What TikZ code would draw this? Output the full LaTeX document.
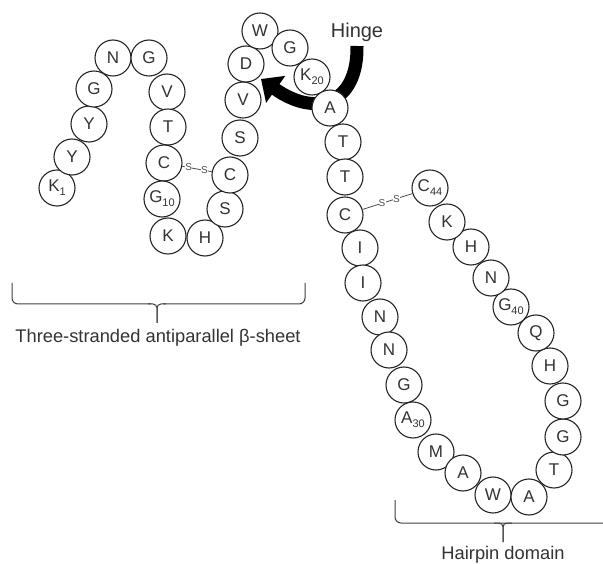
\documentclass[tikz,border=0pt]{standalone}
\usepackage{fontspec}
\setmainfont{Liberation Sans}
\usetikzlibrary{arrows.meta}
\newcommand\subn[1]{\raisebox{-4pt}{\fontsize{11}{11}\selectfont #1}}
\begin{document}
\begin{tikzpicture}[x=1pt,y=-1pt,
  aa/.style={circle,draw=black!85,line width=1.1pt,fill=white,minimum size=36pt,inner sep=0pt,
    font=\fontsize{17}{17}\selectfont,text=black!80},
  ssbond/.style={draw=black!70,line width=0.8pt},
  sslab/.style={fill=white,inner sep=0.2pt,font=\fontsize{10}{10}\selectfont,text=black!70},
  brace/.style={draw=black!75,line width=1pt},
  lbl/.style={font=\fontsize{18.3}{18}\selectfont,text=black!80,anchor=base},
  hingearrow/.style={line width=13pt,-{Triangle[length=18pt,width=32pt]}}]
\useasboundingbox (0,0) rectangle (603,564);
% hinge arrow (behind the residues)
\coordinate (hstart) at (357,46);
\coordinate (htip) at (261,79);
\draw[hingearrow] (hstart) .. controls (358,104) and (316,118) .. (htip);
% residues
\node[aa] (r1) at (57,188) {K\subn{1}};
\node[aa] (r2) at (72,157) {Y};
\node[aa] (r3) at (89,124) {Y};
\node[aa] (r4) at (94,89) {G};
\node[aa] (r5) at (113,58) {N};
\node[aa] (r6) at (149,58) {G};
\node[aa] (r7) at (167,92) {V};
\node[aa] (r8) at (168,127) {T};
\node[aa] (r9) at (164,163) {C};
\node[aa] (r10) at (162,199) {G\subn{10}};
\node[aa] (r11) at (168,236) {K};
\node[aa] (r12) at (205,238) {H};
\node[aa] (r13) at (225,209) {S};
\node[aa] (r14) at (230,175) {C};
\node[aa] (r15) at (240,138) {S};
\node[aa] (r16) at (243,100) {V};
\node[aa] (r17) at (246,64) {D};
\node[aa] (r18) at (260,31) {W};
\node[aa] (r19) at (290,48) {G};
\node[aa] (r20) at (312,77) {K\subn{20}};
\node[aa] (r21) at (330,108) {A};
\node[aa] (r22) at (343,142) {T};
\node[aa] (r23) at (345,177) {T};
\node[aa] (r24) at (345,215) {C};
\node[aa] (r25) at (360,248) {I};
\node[aa] (r26) at (363,283) {I};
\node[aa] (r27) at (380,317) {N};
\node[aa] (r28) at (389,350) {N};
\node[aa] (r29) at (404,385) {G};
\node[aa] (r30) at (413,420) {A\subn{30}};
\node[aa] (r31) at (436,452) {M};
\node[aa] (r32) at (463,473) {A};
\node[aa] (r33) at (493,495) {W};
\node[aa] (r34) at (529,497) {A};
\node[aa] (r35) at (554,470) {T};
\node[aa] (r36) at (563,437) {G};
\node[aa] (r37) at (563,401) {G};
\node[aa] (r38) at (550,366) {H};
\node[aa] (r39) at (536,333) {Q};
\node[aa] (r40) at (511,307) {G\subn{40}};
\node[aa] (r41) at (491,278) {N};
\node[aa] (r42) at (471,247) {H};
\node[aa] (r43) at (447,222) {K};
\node[aa] (r44) at (430,188) {C\subn{44}};
% disulfide bonds
\draw[ssbond] (r9) -- node[sslab,pos=0.22]{S} node[sslab,pos=0.75]{S} (r14);
\draw[ssbond] (r24) -- node[sslab,pos=0.39]{S} node[sslab,pos=0.68]{S} (r44);
% labels
\node[lbl,font=\fontsize{20}{20}\selectfont] (hinge) at (357,38) {Hinge};
\node[lbl] (sheet) at (158,343) {Three-stranded antiparallel β-sheet};
\node[lbl] (hairpin) at (503,559) {Hairpin domain};
% braces
\coordinate (b1l) at (12,283);
\coordinate (b1r) at (305,283);
\coordinate (b1t) at (157,323);
\draw[brace,rounded corners=6pt] (b1l) |- (151,304);
\draw[brace,rounded corners=6pt] (b1r) |- (163,304);
\draw[brace,rounded corners=4pt] (148,304) -| (b1t);
\draw[brace,rounded corners=4pt] (166,304) -| (b1t);
\coordinate (b2l) at (395,500);
\coordinate (b2t) at (503,542);
\draw[brace,rounded corners=6pt] (b2l) |- (610,523);
\draw[brace,rounded corners=4pt] (494,523) -| (b2t);
\draw[brace,rounded corners=4pt] (512,523) -| (b2t);
\end{tikzpicture}
\end{document}
